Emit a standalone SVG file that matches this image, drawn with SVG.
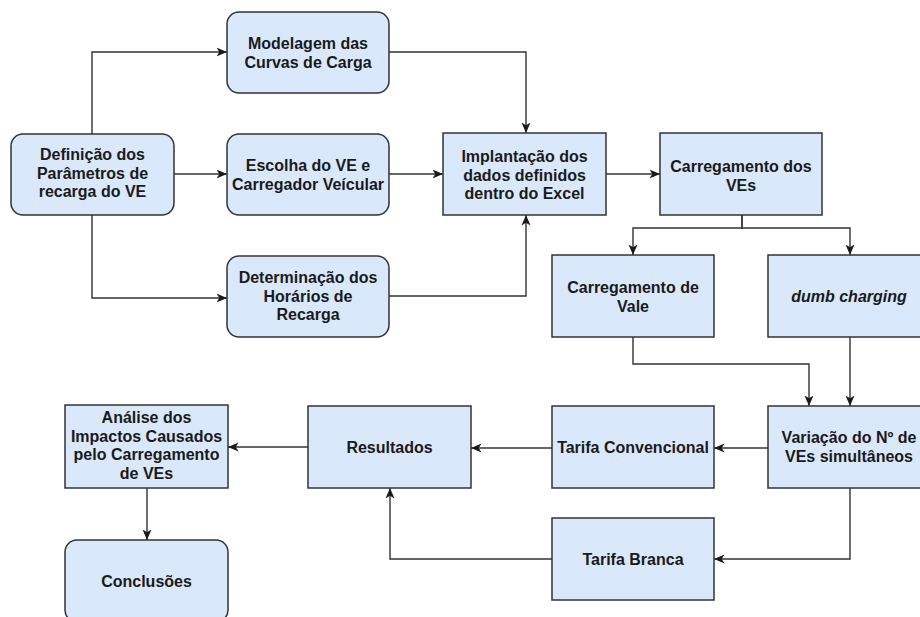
<svg xmlns="http://www.w3.org/2000/svg" width="920" height="617" viewBox="0 0 920 617">
<defs>
<marker id="ah" markerWidth="12" markerHeight="10" refX="10.5" refY="5" orient="auto" markerUnits="userSpaceOnUse">
<path d="M0,0.5 L10.5,5 L0,9.5 L2.8,5 Z" fill="#1a1a1a"/>
</marker>
<style>
.n rect{fill:#dae8fc;stroke:#333;stroke-width:1.5}
.n text{font-family:"Liberation Sans",Arial,sans-serif;font-weight:bold;font-size:16px;fill:#1a1a1a;text-anchor:middle}
.c path{fill:none;stroke:#333;stroke-width:1.4;marker-end:url(#ah)}
</style>
</defs>
<rect width="920" height="617" fill="#fff"/>
<g class="c">
<path d="M92,134 V52 H227"/>
<path d="M174,174 H227"/>
<path d="M92,215 V298 H227"/>
<path d="M389,52 H526 V133"/>
<path d="M389,174 H443"/>
<path d="M389,296 H526 V215"/>
<path d="M606,174 H660"/>
<path d="M742,215 V228 H633 V255"/>
<path d="M742,215 V228 H850 V255"/>
<path d="M633,337 V364 H809 V406"/>
<path d="M850,337 V406"/>
<path d="M768,448 H714"/>
<path d="M850,488 V559 H714"/>
<path d="M552,448 H471"/>
<path d="M552,559 H390 V488"/>
<path d="M308,447 H228"/>
<path d="M147,488 V540"/>
</g>
<g id="definicao" class="n"><rect x="11" y="134" width="163" height="81" rx="12"/><text x="92.5" y="160">Definição dos</text><text x="92.5" y="178.5">Parâmetros de</text><text x="92.5" y="197">recarga do VE</text></g>
<g id="modelagem" class="n"><rect x="227" y="12" width="162" height="81" rx="12"/><text x="308" y="49">Modelagem das</text><text x="308" y="67.5">Curvas de Carga</text></g>
<g id="escolha" class="n"><rect x="227" y="134" width="162" height="81" rx="12"/><text x="308" y="171">Escolha do VE e</text><text x="308" y="189.5">Carregador Veícular</text></g>
<g id="determinacao" class="n"><rect x="227" y="256" width="162" height="81" rx="12"/><text x="308" y="283">Determinação dos</text><text x="308" y="301.5">Horários de</text><text x="308" y="320">Recarga</text></g>
<g id="implantacao" class="n"><rect x="443" y="133" width="163" height="82"/><text x="524.5" y="162">Implantação dos</text><text x="524.5" y="180.5">dados definidos</text><text x="524.5" y="199">dentro do Excel</text></g>
<g id="carregamento" class="n"><rect x="660" y="133" width="162" height="82"/><text x="741" y="172">Carregamento dos</text><text x="741" y="190.5">VEs</text></g>
<g id="vale" class="n"><rect x="552" y="255" width="162" height="82"/><text x="633" y="293">Carregamento de</text><text x="633" y="311.5">Vale</text></g>
<g id="dumb" class="n"><rect x="768" y="255" width="162" height="82"/><text x="849" y="302" font-style="italic">dumb charging</text></g>
<g id="variacao" class="n"><rect x="768" y="406" width="162" height="82"/><text x="849" y="443">Variação do Nº de</text><text x="849" y="461.5">VEs simultâneos</text></g>
<g id="convencional" class="n"><rect x="552" y="406" width="162" height="82"/><text x="633" y="453">Tarifa Convencional</text></g>
<g id="branca" class="n"><rect x="552" y="518" width="162" height="82"/><text x="633" y="565">Tarifa Branca</text></g>
<g id="resultados" class="n"><rect x="308" y="406" width="163" height="82"/><text x="389.5" y="453">Resultados</text></g>
<g id="analise" class="n"><rect x="65" y="405" width="163" height="83"/><text x="146.5" y="423">Análise dos</text><text x="146.5" y="441.5">Impactos Causados</text><text x="146.5" y="460">pelo Carregamento</text><text x="146.5" y="478.5">de VEs</text></g>
<g id="conclusoes" class="n"><rect x="65" y="540" width="163" height="82" rx="12"/><text x="146.5" y="587">Conclusões</text></g>
</svg>
